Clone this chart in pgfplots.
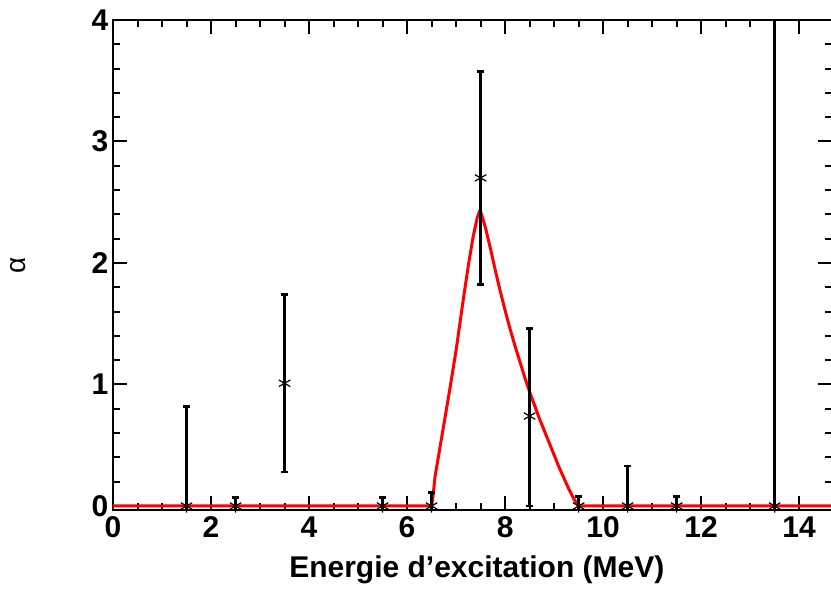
\documentclass[border=0pt]{standalone}
\usepackage{fontspec}
\setmainfont{Liberation Sans}
\usepackage{pgfplots}
\pgfplotsset{compat=1.18}
\begin{document}
\begin{tikzpicture}
\begin{axis}[
  scale only axis, width=359.5pt, height=245pt,
  xmin=0, xmax=14.67, ymin=-0.033, ymax=4,
  xtick={0,2,4,6,8,10,12,14}, ytick={0,1,2,3,4},
  minor x tick num=3, minor y tick num=4,
  axis line style={line width=1.25pt},
  major tick length=7pt, minor tick length=3.5pt,
  every tick/.style={black, line width=1pt},
  tick label style={font=\fontsize{15}{17}\selectfont\bfseries},
  /pgf/number format/assume math mode=true,
  xticklabel style={yshift=0.3pt},
  yticklabel style={xshift=1.2pt},
  xlabel={Energie d’excitation (MeV)},
  xlabel style={at={(rel axis cs:0.506,0)}, anchor=base, yshift=-34pt, font=\fontsize{15}{17}\selectfont\bfseries},
  ylabel={α},
  ylabel style={at={(rel axis cs:0,0.5)}, anchor=center, yshift=47.5pt, font=\fontsize{14}{16}\selectfont},
]
\addplot[red, line width=1.5pt, line join=round] coordinates {
  (0,0) (6.5,0) (6.53,0.08) (6.57,0.24) (6.7,0.55) (6.88,0.98) (7.0,1.28) (7.14,1.68) (7.25,1.98)
  (7.35,2.22) (7.43,2.37) (7.48,2.43) (7.52,2.40) (7.6,2.29) (7.7,2.12) (7.8,1.94) (7.9,1.77)
  (8.0,1.61) (8.1,1.46) (8.2,1.32) (8.3,1.19) (8.4,1.06) (8.5,0.94) (8.6,0.83) (8.7,0.72)
  (8.8,0.62) (8.9,0.52) (9.0,0.42) (9.1,0.32) (9.2,0.23) (9.3,0.14) (9.4,0.06) (9.5,0) (14.67,0)
};
\addplot[black, only marks, mark=asterisk, mark size=3.3pt, mark options={line width=0.6pt},
  error bars/.cd, y dir=both, y explicit,
  error bar style={line width=1.3pt},
  error mark options={rotate=90, mark size=1.7pt, line width=1.3pt}]
coordinates {
  (1.5,0) +- (0,0.82)
  (2.5,0) +- (0,0.07)
  (3.5,1.01) +- (0,0.73)
  (5.5,0) +- (0,0.07)
  (6.5,0) +- (0,0.11)
  (7.5,2.70) +- (0,0.875)
  (8.5,0.74) += (0,0.72) -= (0,0.74)
  (9.5,0) +- (0,0.08)
  (10.5,0) +- (0,0.33)
  (11.5,0) +- (0,0.08)
  (13.5,0) +- (0,5)
};
\end{axis}
\pgfresetboundingbox
\path ([xshift=-56.5pt,yshift=-41pt]current axis.south west) rectangle ([xshift=-0.5pt,yshift=10pt]current axis.north east);
\end{tikzpicture}
\end{document}
